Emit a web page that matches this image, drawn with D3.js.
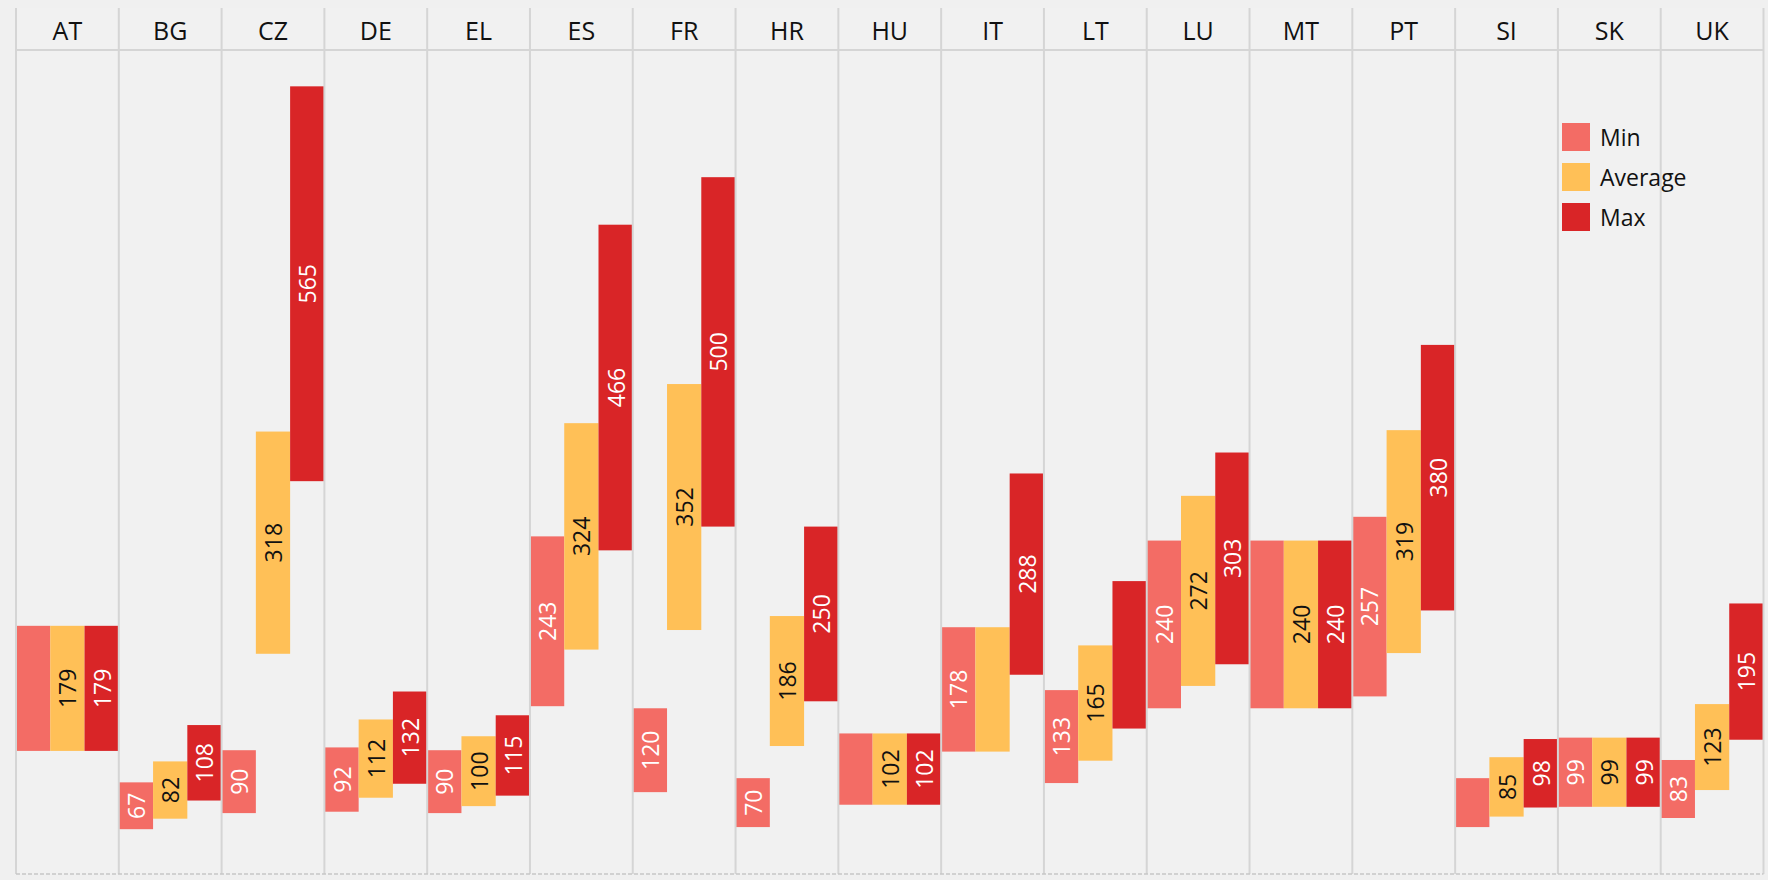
<!DOCTYPE html>
<html>
<head>
<meta charset="utf-8">
<script src="https://cdn.jsdelivr.net/npm/d3@7"></script>
<style>
  html, body { margin: 0; padding: 0; background: #F0F0F0; }
  svg { display: block; }
  text { font-family: "Open Sans", "Noto Sans", sans-serif; }
</style>
</head>
<body>
<svg id="chart" width="1768" height="880"></svg>
<script>
// ---- data ----
const categories = ["AT","BG","CZ","DE","EL","ES","FR","HR","HU","IT","LT","LU","MT","PT","SI","SK","UK"];
const seriesNames = ["Min","Average","Max"];
const minValues = [179, 67, 90, 92, 90, 243, 120, 70, 102, 178, 133, 240, 240, 257, 70, 99, 83];
const avgValues = [179, 82, 318, 112, 100, 324, 352, 186, 102, 178, 165, 272, 240, 319, 85, 99, 123];
const maxValues = [179, 108, 565, 132, 115, 466, 500, 250, 102, 288, 211, 303, 240, 380, 98, 99, 195];
// labels not shown in the reference
const hiddenMin = ["AT","HU","MT","SI"];
const hiddenAvg = ["IT"];
const hiddenMax = ["LT"];

const colors = { "Min": "#F36C65", "Average": "#FFC057", "Max": "#D92527" };
const labelColors = { "Min": "#FFFFFF", "Average": "#111111", "Max": "#FFFFFF" };

const seriesValues = { "Min": minValues, "Average": avgValues, "Max": maxValues };
const hidden = { "Min": hiddenMin, "Average": hiddenAvg, "Max": hiddenMax };

// ---- layout ----
const svg = d3.select("#chart");
const left = 16, right = 1763.5, headTop = 8, headBottom = 50, bottom = 874;

const x = d3.scaleBand().domain(categories).range([left, right]).paddingInner(0).paddingOuter(0);
const xs = d3.scaleBand().domain(seriesNames).range([0, x.bandwidth()]).padding(0);
const y = d3.scaleLinear().domain([0, 788]).range([876, headBottom]);

svg.append("rect").attr("x", 0).attr("y", 0).attr("width", 1768).attr("height", 880).attr("fill", "#F0F0F0");
svg.append("rect").attr("x", left).attr("y", headTop).attr("width", right - left).attr("height", bottom - headTop).attr("fill", "#F1F1F1");

// bars
const data = [];
categories.forEach((c, i) => {
  seriesNames.forEach(s => {
    const v = seriesValues[s][i];
    data.push({ cat: c, series: s, value: v, lo: v * 2 / 3, hi: v * 4 / 3, show: !hidden[s].includes(c) });
  });
});

const g = svg.append("g");
g.selectAll("rect.bar").data(data).join("rect")
  .attr("class", "bar")
  .attr("x", d => x(d.cat) + xs(d.series))
  .attr("width", xs.bandwidth())
  .attr("y", d => y(d.hi))
  .attr("height", d => y(d.lo) - y(d.hi))
  .attr("fill", d => colors[d.series]);

g.selectAll("text.lbl").data(data.filter(d => d.show)).join("text")
  .attr("class", "lbl")
  .attr("transform", d => {
    const cx = x(d.cat) + xs(d.series) + xs.bandwidth() / 2;
    const cy = (y(d.hi) + y(d.lo)) / 2;
    return `translate(${cx},${cy}) rotate(-90)`;
  })
  .attr("text-anchor", "middle")
  .attr("dominant-baseline", "central")
  .attr("font-size", 23)
  .attr("fill", d => labelColors[d.series])
  .text(d => d.value);

// grid lines
const gridColor = "#D5D5D5";
const bounds = categories.map(c => x(c)).concat([right]);
svg.append("g").selectAll("line").data(bounds).join("line")
  .attr("x1", d => d).attr("x2", d => d)
  .attr("y1", headTop).attr("y2", bottom)
  .attr("stroke", gridColor).attr("stroke-width", 2);

svg.append("line").attr("x1", left).attr("x2", right).attr("y1", headBottom).attr("y2", headBottom)
  .attr("stroke", gridColor).attr("stroke-width", 2);
svg.append("line").attr("x1", left).attr("x2", right).attr("y1", bottom).attr("y2", bottom)
  .attr("stroke", "#C6C6C6").attr("stroke-width", 1.5).attr("stroke-dasharray", "4,2");

// header labels
svg.append("g").selectAll("text").data(categories).join("text")
  .attr("x", d => x(d) + x.bandwidth() / 2)
  .attr("y", 30)
  .attr("text-anchor", "middle")
  .attr("dominant-baseline", "central")
  .attr("font-size", 25)
  .attr("fill", "#111")
  .text(d => d);

// legend
const legend = svg.append("g").attr("transform", "translate(1562,123)");
const li = legend.selectAll("g").data(seriesNames).join("g")
  .attr("transform", (d, i) => `translate(0,${i * 40})`);
li.append("rect").attr("width", 28).attr("height", 28).attr("fill", d => colors[d]);
li.append("text").attr("x", 38).attr("y", 14).attr("dominant-baseline", "central")
  .attr("font-size", 23).attr("fill", "#111").text(d => d);
</script>
</body>
</html>
